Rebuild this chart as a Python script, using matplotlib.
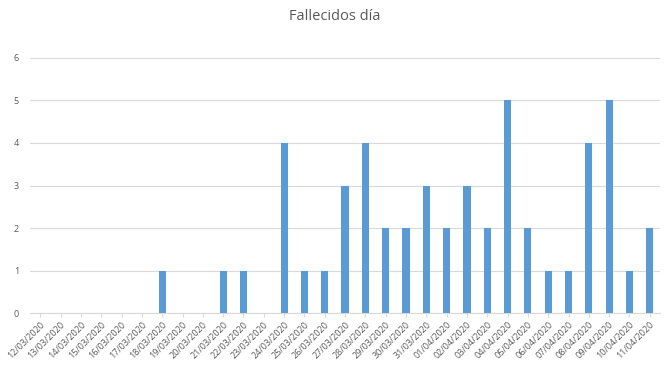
import matplotlib
matplotlib.use("Agg")
import matplotlib.pyplot as plt

fechas = ["12/03/2020", "13/03/2020", "14/03/2020", "15/03/2020", "16/03/2020",
          "17/03/2020", "18/03/2020", "19/03/2020", "20/03/2020", "21/03/2020",
          "22/03/2020", "23/03/2020", "24/03/2020", "25/03/2020", "26/03/2020",
          "27/03/2020", "28/03/2020", "29/03/2020", "30/03/2020", "31/03/2020",
          "01/04/2020", "02/04/2020", "03/04/2020", "04/04/2020", "05/04/2020",
          "06/04/2020", "07/04/2020", "08/04/2020", "09/04/2020", "10/04/2020",
          "11/04/2020"]
fallecidos = [0, 0, 0, 0, 0, 0, 1, 0, 0, 1,
              1, 0, 4, 1, 1, 3, 4, 2, 2, 3,
              2, 3, 2, 5, 2, 1, 1, 4, 5, 1,
              2]

plt.rcParams['font.family'] = ['Open Sans', 'DejaVu Sans']
fig = plt.figure(figsize=(6.7, 3.71), dpi=100)
ax = fig.add_axes([0.045, 0.156, 0.94, 0.688])

x = range(len(fechas))
ax.bar(x, fallecidos, width=0.35, color='#5B9BD5', zorder=3)

ax.set_xlim(-0.5, len(fechas) - 0.5)
ax.set_ylim(0, 6)
ax.set_yticks(range(0, 7))
ax.set_xticks(list(x))
ax.set_xticklabels(fechas, rotation=45, ha='right', rotation_mode='anchor',
                   fontsize=6.5, color='#595959')
ax.tick_params(axis='y', length=0, labelsize=6.5, labelcolor='#595959', pad=8)
ax.tick_params(axis='x', length=3, color='#d9d9d9', pad=2)
ax.grid(axis='y', color='#d9d9d9', linewidth=0.8, zorder=0)
for s in ['top', 'right', 'left']:
    ax.spines[s].set_visible(False)
ax.spines['bottom'].set_color('#d9d9d9')

fig.suptitle("Fallecidos día", y=0.975, fontsize=10.5, color='#595959')

fig.savefig("out.png", dpi=100)
